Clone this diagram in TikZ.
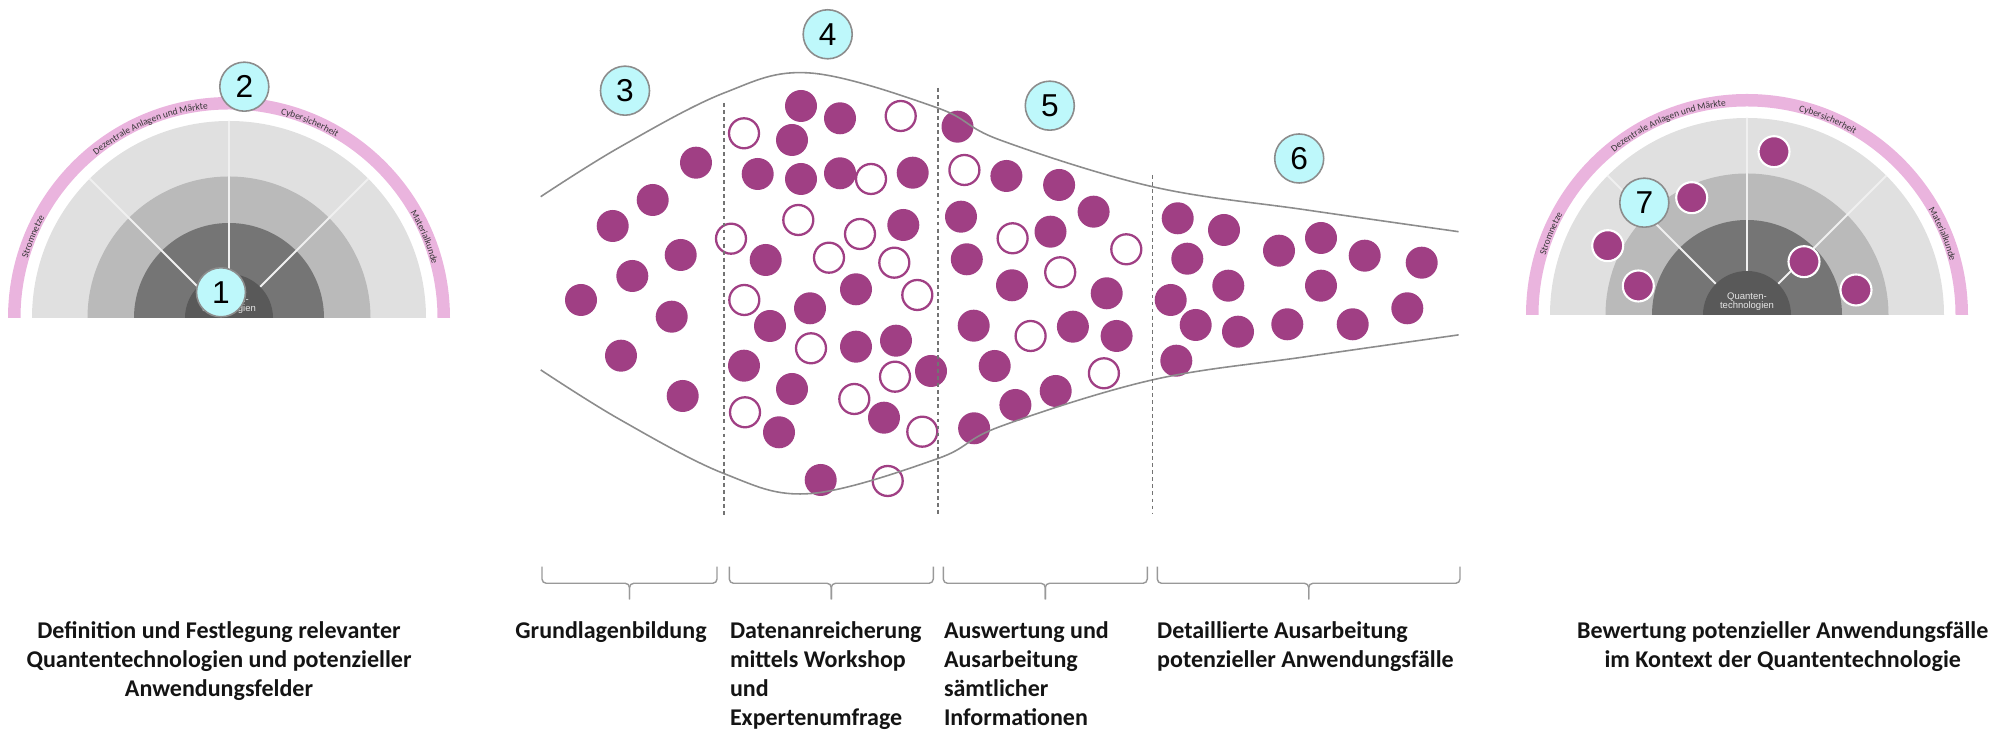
\documentclass[tikz,border=0pt]{standalone}
\usepackage{fontspec}
\setmainfont{Carlito}
\newfontfamily\numfont{Liberation Sans}
\usetikzlibrary{decorations.text}
\usepackage{xcolor}
\definecolor{dotpurple}{RGB}{160,63,132}
\definecolor{badgecyan}{RGB}{190,248,251}
\definecolor{arcpink}{RGB}{234,180,222}
\definecolor{ringlight}{RGB}{224,224,224}
\definecolor{ringmid}{RGB}{186,186,186}
\definecolor{ringdark}{RGB}{117,117,117}
\definecolor{ringcore}{RGB}{89,89,89}
\definecolor{ringdiv}{RGB}{240,240,240}
\definecolor{arctext}{RGB}{55,55,55}
\newcommand{\arcfont}{\fontsize{2.7}{3}\selectfont}

\begin{document}
\begin{tikzpicture}[x=0.01cm, y=0.01cm,
  badge/.style={circle, draw=black!45, fill=badgecyan, line width=0.45pt, minimum size=0.49cm, inner sep=0pt, font=\numfont\fontsize{9}{9}\selectfont},
  fulldot/.style={fill=dotpurple},
  opendot/.style={draw=dotpurple, fill=white, line width=0.65pt},
  markdot/.style={fill=dotpurple, draw=white, line width=0.6pt},
  funnel/.style={draw=black!45, line width=0.45pt},
  divider/.style={draw=ringdiv, line width=0.55pt},
  phase/.style={dash pattern=on 1.1pt off 0.9pt, draw=black!55, line width=0.35pt},
  bracket/.style={draw=black!40, line width=0.4pt, rounded corners=1.2pt},
  steptext/.style={inner sep=0pt, text=black!92, font=\bfseries\fontsize{6.83}{8.2}\selectfont},
  coretext/.style={inner sep=0pt, align=center, text=black!10, font=\numfont\fontsize{2.7}{2.65}\selectfont}]

  \useasboundingbox (0,0) rectangle (2008,731);

  % Halbkreise mit Anwendungsfeldern
  \foreach \cx/\cy/\side in {229/413/L, 1747/416/R} {
    \coordinate (hub\side) at (\cx,\cy);
    \fill[arcpink] (\cx-221,\cy) arc[start angle=180, end angle=0, radius=221]
      -- ++(-12.5,0) arc[start angle=0, end angle=180, radius=208.5] -- cycle;
    \fill[ringlight] (\cx-197,\cy) arc[start angle=180, end angle=0, radius=197] -- cycle;
    \fill[ringmid] (\cx-141.5,\cy) arc[start angle=180, end angle=0, radius=141.5] -- cycle;
    \fill[ringdark] (\cx-95,\cy) arc[start angle=180, end angle=0, radius=95] -- cycle;
    \foreach \a in {45,90,135} { \draw[divider] (hub\side) ++(\a:44) -- ++(\a:153); }
    \fill[ringcore] (\cx-44,\cy) arc[start angle=180, end angle=0, radius=44] -- cycle;
    \node[coretext] (core\side) at (\cx,\cy+13) {Quanten-\\technologien};
    \foreach \lab/\mid in {Stromnetze/157.5, Dezentrale Anlagen und Märkte/112.5, Cybersicherheit/67.5, Materialkunde/22.5} {
      \path[decorate, decoration={text along path, text align=center, text color=arctext,
          text/.expanded={|\noexpand\arcfont|\lab}}]
        (hub\side) ++(\mid+24:210) arc[start angle=\mid+24, end angle=\mid-24, radius=210];
    }
  }

  % bewertete Anwendungsfaelle
  \foreach \x/\y in {1774/579.3, 1691.7/533.3, 1607.7/485.3, 1638.3/445, 1804/469.3, 1856/441} {
    \fill[markdot] (\x,\y) circle[radius=15.5];
  }

  % offene Punkte im Trichter
  \foreach \x/\y in {900.7/615, 744/597.7, 871/552, 798.3/511, 860/497, 731/492.3, 829/473.3, 894.3/468.3,
      917.3/436, 744.3/431, 811/382.7, 895/354.3, 854.3/332, 745/318.7, 922.3/299.3, 887.7/250,
      964.4/561, 1012.6/492.7, 1126.3/481.7, 1060.2/458.7, 1030.6/395, 1103.9/357.7} {
    \draw[opendot] (\x,\y) circle[radius=15];
  }
  % gefuellte Punkte im Trichter
  \foreach \x/\y in {696/568.3, 652.7/531, 612.7/505, 680.7/476, 632.3/455, 581/431, 671.7/414.3, 621/375.3, 682.7/335,
      801/625, 840/612.7, 792/591, 757.7/557, 801/552, 840/557.7, 912.7/558.3, 903.3/506, 765.7/471, 856/441.7,
      810/422.7, 770/405, 856/384.3, 896/390.3, 931/360, 744/365.3, 792/342, 779/298.7, 884/313.3, 820.7/251,
      957.5/604.3, 1006.4/555, 1059.1/546, 961/514.3, 1093.6/519.3, 1050.5/499.3, 966.8/471.7, 1012/445.7,
      1106.7/437.7, 973.7/405.3, 1072.9/404.3, 1116.6/395, 994.7/365, 1015.4/326, 1055.7/340, 974.1/302.7,
      1177.7/512.7, 1224/501, 1187.3/472.3, 1279/480.3, 1321/493, 1364.7/475.3, 1421.7/468.3, 1228.3/445.3,
      1321/445.3, 1170.7/431, 1195.7/406, 1238/399.3, 1287.3/406.7, 1352.7/406.7, 1407.3/422.7, 1176.3/370.3} {
    \fill[fulldot] (\x,\y) circle[radius=16];
  }

  % Trichter
  \draw[funnel] plot[smooth, tension=0.6] coordinates {(540.7,534.3) (620,584) (724,638) (810,658) (937.7,623)
    (1000,591) (1152.4,544.3) (1306.7,521) (1458.6,499.3)};
  \draw[funnel] plot[smooth, tension=0.6] coordinates {(540.7,361.1) (620,311.4) (724,257.4) (810,237.4) (937.7,272.4)
    (1000,304.4) (1152.4,351.1) (1306.7,374.4) (1458.6,396.1)};
  \draw[phase] (724,628) -- (724,216);
  \draw[phase] (938,643) -- (938,216);
  \draw[phase] (1152.5,556) -- (1152.5,218);

  % Nummern
  \node[badge] (b1) at (221,438.7) {1};
  \node[badge] (b2) at (244.3,644.3) {2};
  \node[badge] (b3) at (625,640.3) {3};
  \node[badge] (b4) at (827.7,696.7) {4};
  \node[badge] (b5) at (1049.8,625.3) {5};
  \node[badge] (b6) at (1299.2,572.5) {6};
  \node[badge] (b7) at (1644.3,528.3) {7};

  % Klammern unter den Phasen
  \foreach \l/\m/\r in {542/629.5/717, 729.3/831.3/933.3, 943.3/1045.3/1147.3, 1157.3/1308.7/1460} {
    \draw[bracket] (\l,164.3) -- (\l,147.7) -- (\m,147.7) -- (\m,131.7);
    \draw[bracket] (\r,164.3) -- (\r,147.7) -- (\m,147.7) -- (\m,131.7);
  }

  % Beschriftungen (Anker auf der Grundlinie der letzten Zeile)
  \node[steptext, align=center, anchor=base] (def) at (219,34.6) {Definition und Festlegung relevanter\\Quantentechnologien und potenzieller\\Anwendungsfelder};
  \node[steptext, anchor=base] (grund) at (611,92.2) {Grundlagenbildung};
  \node[steptext, align=left, anchor=base west] (daten) at (729.3,5.8) {Datenanreicherung\\mittels Workshop\\und\\Expertenumfrage};
  \node[steptext, align=left, anchor=base west] (ausw) at (943.3,5.8) {Auswertung und\\Ausarbeitung\\sämtlicher\\Informationen};
  \node[steptext, align=left, anchor=base west] (detail) at (1156.5,63.4) {Detaillierte Ausarbeitung\\potenzieller Anwendungsfälle};
  \node[steptext, align=center, anchor=base] (bewert) at (1782.7,63.4) {Bewertung potenzieller Anwendungsfälle\\im Kontext der Quantentechnologie};
\end{tikzpicture}
\end{document}
